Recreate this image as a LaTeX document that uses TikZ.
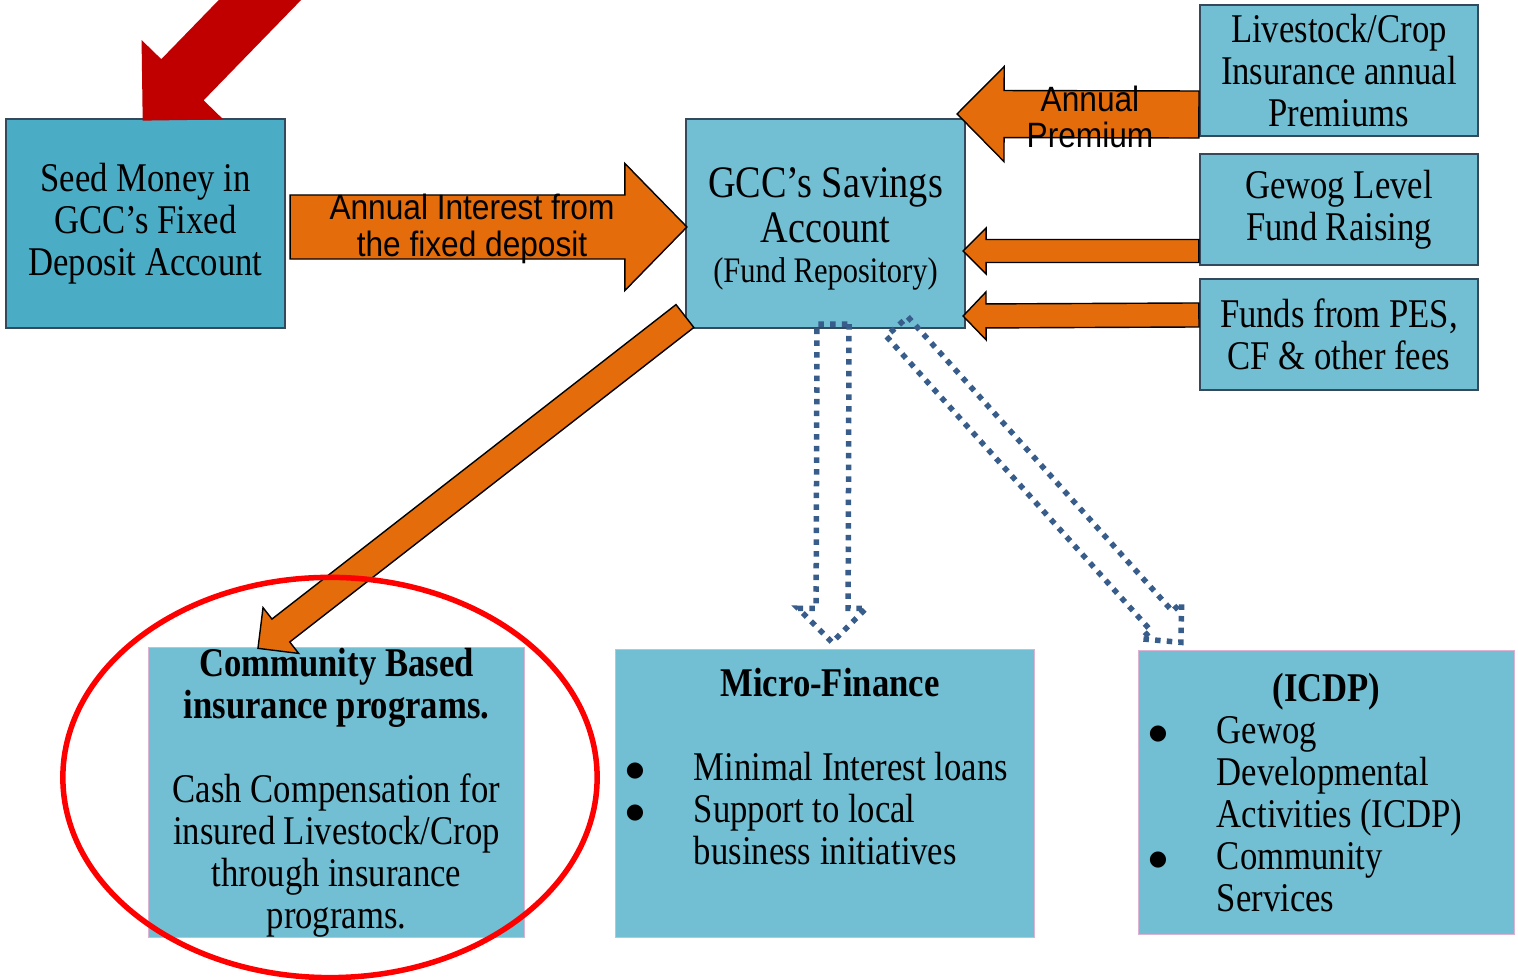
\documentclass[tikz,border=0pt]{standalone}
\usepackage{fontspec}
\setmainfont{Liberation Serif}[FakeStretch=0.85]
\newfontfamily\arialfont{Liberation Sans}[FakeStretch=0.9]
\newfontfamily\dotfont{DejaVu Sans}
\usetikzlibrary{calc}

\definecolor{seedblue}{HTML}{4BACC6}
\definecolor{boxblue}{HTML}{72BED2}
\definecolor{boxline}{HTML}{34495C}
\definecolor{flow}{HTML}{E46C0A}
\definecolor{seedred}{HTML}{C00000}
\definecolor{dotblue}{HTML}{385D8A}
\definecolor{pinkline}{HTML}{DDB3D3}

\newcommand\boxfont{\fontsize{11.6}{11.95}\selectfont}
\newcommand\bul{\makebox[0.68cm][l]{\raisebox{1pt}{\dotfont\fontsize{6}{6}\selectfont ●}}}
\newcommand\ind{\hspace*{0.68cm}}

\newcommand\blockarrow[6][]{%
  \coordinate (ba-s) at (#2);
  \coordinate (ba-e) at (#3);
  \coordinate (ba-h) at ($(ba-e)!#6!(ba-s)$);
  \path[#1] ($(ba-s)!#4!90:(ba-e)$) -- ($(ba-h)!#4!90:(ba-e)$)
    -- ($(ba-h)!#5!90:(ba-e)$) -- (ba-e) -- ($(ba-h)!#5!-90:(ba-e)$)
    -- ($(ba-h)!#4!-90:(ba-e)$) -- ($(ba-s)!#4!-90:(ba-e)$) -- cycle;
}

\begin{document}
\begin{tikzpicture}[x=0.01cm, y=-0.01cm,
    acct/.style={draw=boxline, line width=0.02cm, fill=boxblue, minimum width=2.78cm,
      align=center, font=\boxfont, inner sep=0pt},
    prog/.style={draw=pinkline, line width=0.3pt, fill=boxblue, font=\boxfont,
      inner xsep=0.1cm, inner ysep=0pt},
    flowarrow/.style={fill=flow, draw=black, line width=0.4pt},
    hollowarrow/.style={draw=dotblue, line width=0.055cm, dash pattern=on 0.055cm off 0.062cm},
    flowlabel/.style={font=\arialfont\fontsize{10}{10.3}\selectfont, align=center, inner sep=0pt},
    ring/.style={draw=red, line width=0.055cm}]
  \useasboundingbox (0,0) rectangle (1518,980);
  \clip (0,0) rectangle (1518,980);

  \node[acct, fill=seedblue, minimum width=2.79cm, minimum height=2.09cm] (seed) at (145.5,223.5)
    {Seed Money in\\GCC's Fixed\\Deposit Account};
  \node[acct, minimum width=2.79cm, minimum height=2.09cm, font=\fontsize{12.8}{12.8}\selectfont] (sav) at (825.5,223.5)
    {\rule{0pt}{11.5pt}GCC's Savings\\Account\\[-1.4pt]{\fontsize{10.2}{11}\selectfont(Fund Repository)}};
  \node[acct, minimum height=1.31cm] (liv) at (1339,70.5) {Livestock/Crop\\Insurance annual\\Premiums};
  \node[acct, minimum height=1.11cm] (gew) at (1339,209.5) {Gewog Level\\Fund Raising};
  \node[acct, minimum height=1.11cm] (pes) at (1339,334.5) {Funds from PES,\\CF \& other fees};

  \node[prog, text width=3.55cm, minimum height=2.83cm, align=flush center] (cbi) at (336.5,792.5)
    {\textbf{Community Based}\\\textbf{insurance programs.}\\[11.95pt]Cash Compensation for\\insured Livestock/Crop\\through insurance\\programs.};
  \node[prog, text width=3.98cm, minimum height=2.87cm, align=flush left] (mic) at (825,793.5)
    {\hspace*{0.1cm}\makebox[3.88cm]{\bfseries Micro-Finance}\\[11.95pt]\bul Minimal Interest loans\\\bul Support to local\\\ind business initiatives\\\strut};
  \node[prog, text width=3.55cm, minimum height=2.83cm, align=flush left] (icd) at (1326.5,792.5)
    {\makebox[3.55cm]{\bfseries (ICDP)}\\\bul Gewog\\\ind Developmental\\\ind Activities (ICDP)\\\bul Community\\\ind Services};

  \coordinate (redstart) at (293,-34);
  \blockarrow[fill=seedred]{redstart}{[xshift=-0.028cm,yshift=-0.027cm]seed.north}{0.295cm}{0.57cm}{0.57cm}

  \blockarrow[flowarrow]{[xshift=0.04cm,yshift=-0.035cm]seed.east}{[xshift=0.02cm,yshift=-0.035cm]sav.west}{0.32cm}{0.635cm}{0.62cm}
  \blockarrow[flowarrow]{[yshift=-0.44cm]liv.west}{[xshift=-0.09cm,yshift=0.04cm]sav.north east}{0.235cm}{0.475cm}{0.47cm}
  \blockarrow[flowarrow]{[yshift=-0.415cm]gew.west}{[xshift=-0.03cm,yshift=-0.275cm]sav.east}{0.115cm}{0.23cm}{0.23cm}
  \blockarrow[flowarrow]{[yshift=0.195cm]pes.west}{[xshift=-0.03cm,yshift=0.13cm]sav.south east}{0.12cm}{0.24cm}{0.23cm}
  \blockarrow[flowarrow]{[yshift=0.13cm]sav.south west}{[xshift=-0.785cm,yshift=-0.01cm]cbi.north}{0.145cm}{0.29cm}{0.29cm}

  \blockarrow[hollowarrow]{[xshift=0.075cm,yshift=0.05cm]sav.south}{[xshift=0.07cm,yshift=0.07cm]mic.north}{0.16cm}{0.34cm}{0.34cm}
  \blockarrow[hollowarrow]{[xshift=0.715cm,yshift=0.025cm]sav.south}{[xshift=-1.455cm,yshift=0.08cm]icd.north}{0.145cm}{0.27cm}{0.29cm}

  \node[flowlabel] (intlbl) at (472,229) {Annual Interest from\\the fixed deposit};
  \node[flowlabel] (premlbl) at (1090,117) {Annual\\Premium};

  \draw[ring] ([xshift=-0.065cm,yshift=0.15cm]cbi.center) ellipse [x radius=2.67cm, y radius=2cm];
\end{tikzpicture}
\end{document}
